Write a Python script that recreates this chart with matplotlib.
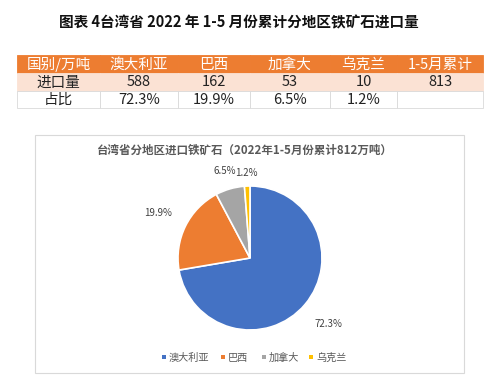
import numpy as np
import matplotlib.pyplot as plt
from matplotlib.patches import Rectangle

plt.rcParams['font.family'] = ['Noto Sans CJK SC', 'DejaVu Sans']

# data
countries = ["澳大利亚", "巴西", "加拿大", "乌克兰"]
imports = [588, 162, 53, 10]
total = 813
shares = ["72.3%", "19.9%", "6.5%", "1.2%"]
header = ["国别/万吨"] + countries + ["1-5月累计"]
row_import = ["进口量"] + [str(v) for v in imports] + [str(total)]
row_share = ["占比"] + shares + [""]
colors = ["#4472C4", "#ED7D31", "#A5A5A5", "#FFC000"]

W, H = 500, 383
fig = plt.figure(figsize=(W / 100, H / 100), dpi=100)
bg = fig.add_axes([0, 0, 1, 1])
bg.set_xlim(0, W)
bg.set_ylim(H, 0)
bg.axis("off")

# figure title
bg.text(239, 22, "图表 4台湾省 2022 年 1-5 月份累计分地区铁矿石进口量",
        ha="center", va="center", fontsize=10.5, fontweight="bold", color="#111111")

# table
col_x = [17, 100, 178, 250, 330, 397, 483]
row_y = [55, 73, 91, 108]
rows = [header, row_import, row_share]
fills = ["#ED7D31", "#FBE2D4", "white"]
txt_colors = ["white", "#222222", "#222222"]
for r, cells in enumerate(rows):
    y0, y1 = row_y[r], row_y[r + 1]
    for c, cell in enumerate(cells):
        x0, x1 = col_x[c], col_x[c + 1]
        bg.add_patch(Rectangle((x0, y0), x1 - x0, y1 - y0, facecolor=fills[r],
                               edgecolor="#D9D9D9" if r == 2 else fills[r], lw=0.6))
        bg.text((x0 + x1) / 2, (y0 + y1) / 2 + 0.5, cell, ha="center", va="center",
                fontsize=10.5, color=txt_colors[r])

# chart box
bg.add_patch(Rectangle((35, 135), 429, 238, facecolor="white", edgecolor="#D9D9D9", lw=0.8))
bg.text(245, 150, "台湾省分地区进口铁矿石（2022年1-5月份累计812万吨）",
        ha="center", va="center", fontsize=8.3, fontweight="bold", color="#595959")

# pie
cx, cy, rad = 250, 258, 72
pax = fig.add_axes([(cx - rad) / W, 1 - (cy + rad) / H, 2 * rad / W, 2 * rad / H])
wedges, texts = pax.pie(imports, colors=colors, startangle=90, counterclock=False,
                        labels=shares, labeldistance=1.3,
                        wedgeprops=dict(edgecolor="white", linewidth=1.2),
                        textprops=dict(fontsize=7, color="#404040"))
label_r = [1.42, 1.42, 1.26, 1.18]
for w, t, d in zip(wedges, texts, label_r):
    ang = np.deg2rad((w.theta1 + w.theta2) / 2)
    t.set_position((d * np.cos(ang), d * np.sin(ang)))
    t.set_ha("center")
    t.set_va("center")
pax.set_xlim(-1, 1)
pax.set_ylim(-1, 1)
pax.set_aspect("equal")

# legend
lx = [162, 221, 262, 309]
for x, c, name in zip(lx, colors, countries):
    bg.add_patch(Rectangle((x, 355), 4, 4, facecolor=c, edgecolor="none"))
    bg.text(x + 7, 357.5, name, ha="left", va="center", fontsize=7.3, color="#595959")

fig.savefig("out.png", dpi=100, facecolor="white")
